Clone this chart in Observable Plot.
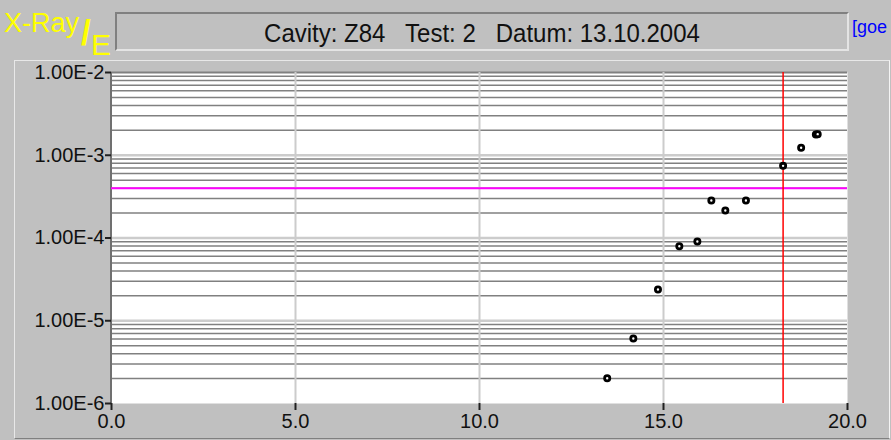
<!DOCTYPE html>
<html><head><meta charset="utf-8">
<script src="https://cdn.jsdelivr.net/npm/d3@7"></script>
<script src="https://cdn.jsdelivr.net/npm/@observablehq/plot@0.6"></script>
<style>
html,body{margin:0;padding:0;background:#c0c0c0;width:891px;height:440px;overflow:hidden;font-family:"Liberation Sans",Arial,sans-serif;}
#wrap{position:relative;width:891px;height:440px;}
#panel{position:absolute;left:14px;top:60px;width:876px;height:379px;box-sizing:border-box;border-top:1px solid #e8e8e8;border-left:1px solid #e8e8e8;border-right:1px solid #f4f4f4;border-bottom:1px solid #808080;}
#titlebox{position:absolute;left:115px;top:12px;width:734px;height:39px;box-sizing:border-box;border-top:2px solid #808080;border-left:2px solid #808080;border-bottom:2px solid #e4e4e4;border-right:2px solid #e4e4e4;}
#title{position:absolute;left:0;right:0;top:7px;text-align:center;font-size:24px;line-height:24px;color:#111;white-space:pre;transform:scaleY(1.08);}
.lbl{position:absolute;color:#ffff00;white-space:pre;line-height:1;}
#goe{position:absolute;left:852px;top:18px;font-size:18px;line-height:18px;color:#0000ff;white-space:pre;}
#chart{position:absolute;left:0;top:0;}
</style>
</head><body>
<div id="wrap">
  <div id="panel"></div>
  <div id="titlebox"><div id="title"></div></div>
  <div class="lbl" id="xr" style="left:4px;top:10px;font-size:27px;"></div>
  <div class="lbl" id="sl" style="left:81px;top:15px;font-size:35px;font-weight:bold;"></div>
  <div class="lbl" id="ee" style="left:91px;top:30px;font-size:30px;"></div>
  <div id="goe"></div>
  <div id="chart"></div>
</div>
<script>
// ---- data ----
const titleText = "Cavity: Z84   Test: 2   Datum: 13.10.2004";
const seriesLabel = ["X-Ray", "/", "E"];
const linkText = "[goe";

const xValues = [13.47, 14.18, 14.85, 15.43, 15.92, 16.30, 16.68, 17.24, 18.25, 18.74, 19.14, 19.19];
const yValues = [2.02e-6, 6.1e-6, 2.39e-5, 7.96e-5, 9.08e-5, 2.84e-4, 2.15e-4, 2.84e-4, 7.45e-4, 1.23e-3, 1.78e-3, 1.80e-3];

const xTicks = [0, 5, 10, 15, 20];
const xTickLabels = ["0.0", "5.0", "10.0", "15.0", "20.0"];
const yTicks = [1e-6, 1e-5, 1e-4, 1e-3, 1e-2];
const yTickLabels = ["1.00E-6", "1.00E-5", "1.00E-4", "1.00E-3", "1.00E-2"];
const xGrid = [5, 10, 15];
const minorMultipliers = [2, 3, 4, 5, 6, 7, 8, 9];
const limitY = 4e-4;   // magenta threshold
const limitX = 18.25;  // red marker

// ---- texts ----
document.getElementById("title").textContent = titleText;
document.getElementById("xr").textContent = seriesLabel[0];
document.getElementById("sl").textContent = seriesLabel[1];
document.getElementById("ee").textContent = seriesLabel[2];
document.getElementById("goe").textContent = linkText;

// ---- chart ----
const data = xValues.map((x, i) => ({x, y: yValues[i]}));
const yMinor = yTicks.slice(0, -1).flatMap(d => minorMultipliers.map(m => d * m));

const chart = Plot.plot({
  width: 891,
  height: 440,
  marginLeft: 111,
  marginRight: 44,
  marginTop: 72,
  marginBottom: 37,
  style: {background: "transparent", fontFamily: "'Liberation Sans', Arial, sans-serif", fontSize: "20px", color: "#000", overflow: "visible"},
  x: {domain: [0, 20], label: null},
  y: {type: "log", domain: [1e-6, 1e-2], label: null},
  marks: [
    Plot.frame({fill: "white", stroke: null}),
    Plot.ruleY(yMinor, {stroke: "#808080", strokeWidth: 1.5}),
    Plot.ruleY(yTicks.slice(1, -1), {stroke: "#cccccc", strokeWidth: 2.5}),
    Plot.ruleY([yTicks[yTicks.length - 1]], {stroke: "#808080", strokeWidth: 2}),
    Plot.ruleX(xGrid, {stroke: "#cccccc", strokeWidth: 2}),
    Plot.ruleX([xTicks[0]], {stroke: "#707070", strokeWidth: 2, dx: -0.5}),
    Plot.ruleY([limitY], {stroke: "#ff00ff", strokeWidth: 2}),
    Plot.ruleX([limitX], {stroke: "#ff0000", strokeWidth: 1.5}),
    Plot.dot(data, {x: "x", y: "y", r: 2.6, stroke: "black", strokeWidth: 2.8, fill: "white"}),
    Plot.axisX(xTicks, {tickFormat: d => xTickLabels[xTicks.indexOf(d)], tickSize: 7, tickPadding: 3, strokeWidth: 2, stroke: "#202020", fill: "#111"}),
    Plot.axisY(yTicks, {tickFormat: d => yTickLabels[yTicks.indexOf(d)], tickSize: 6, tickPadding: 1, strokeWidth: 2, stroke: "#202020", fill: "#111"})
  ]
});
document.getElementById("chart").appendChild(chart);
</script>
</body></html>
